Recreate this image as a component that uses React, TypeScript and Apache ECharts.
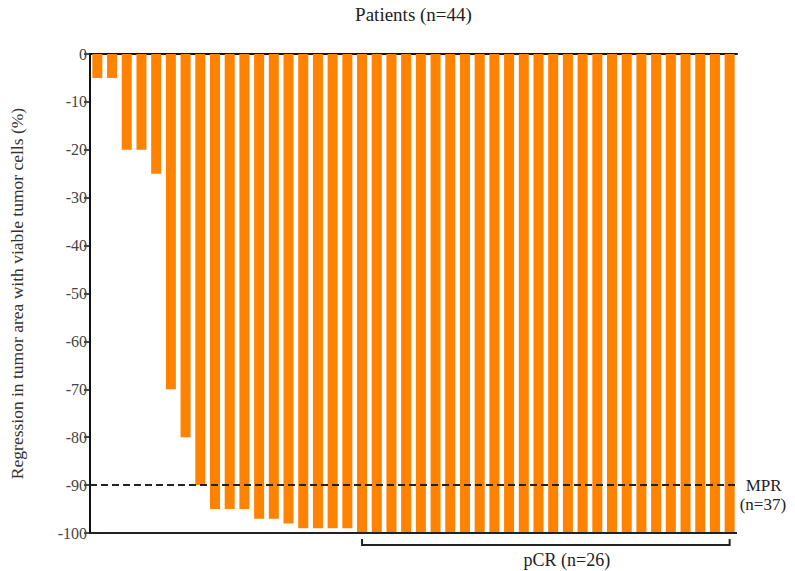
import React, { useEffect, useRef } from "react";
import * as echarts from "echarts";

const patients = [
  "P1", "P2", "P3", "P4", "P5", "P6", "P7", "P8", "P9", "P10", "P11",
  "P12", "P13", "P14", "P15", "P16", "P17", "P18", "P19", "P20", "P21", "P22",
  "P23", "P24", "P25", "P26", "P27", "P28", "P29", "P30", "P31", "P32", "P33",
  "P34", "P35", "P36", "P37", "P38", "P39", "P40", "P41", "P42", "P43", "P44",
];

const regression = [
  -5, -5, -20, -20, -25, -70, -80, -90, -95, -95, -95,
  -97, -97, -98, -99, -99, -99, -99, -100, -100, -100, -100,
  -100, -100, -100, -100, -100, -100, -100, -100, -100, -100, -100,
  -100, -100, -100, -100, -100, -100, -100, -100, -100, -100, -100,
];

const mprThreshold = -90;
const pcrValue = -100;
const pcrFirstIndex = 18;
const pcrLastIndex = 43;

const titleText = "Patients (n=44)";
const yAxisTitle = "Regression in tumor area with viable tumor cells (%)";
const mprLabel = "MPR";
const mprCount = "(n=37)";
const pcrLabel = "pCR (n=26)";

const FONT = "'Liberation Serif', 'DejaVu Serif', serif";

export default function App() {
  const ref = useRef<HTMLDivElement>(null);

  useEffect(() => {
    document.body.style.margin = "0";
    if (!ref.current) return;
    const chart = echarts.init(ref.current, null, { renderer: "svg" });
    chart.setOption({
      animation: false,
      backgroundColor: "#ffffff",
      grid: { left: 88, right: 58, top: 51, bottom: 38 },
      xAxis: {
        type: "category",
        position: "top",
        data: patients,
        name: titleText,
        nameLocation: "middle",
        nameGap: 30,
        nameTextStyle: { fontFamily: FONT, fontSize: 19, color: "#222" },
        axisLine: { show: true, onZero: false, lineStyle: { color: "#111", width: 2 } },
        axisTick: { show: false },
        axisLabel: { show: false },
      },
      yAxis: {
        type: "value",
        min: -100,
        max: 0,
        interval: 10,
        name: yAxisTitle,
        nameLocation: "middle",
        nameRotate: 90,
        nameGap: 64,
        nameTextStyle: { fontFamily: FONT, fontSize: 17.5, color: "#333" },
        axisLine: { show: true, lineStyle: { color: "#111", width: 2 } },
        axisTick: { show: true, length: 6, lineStyle: { color: "#111", width: 1.5 } },
        axisLabel: { fontFamily: FONT, fontSize: 16, color: "#444", margin: 3 },
        splitLine: { show: false },
      },
      series: [
        {
          type: "bar",
          data: regression,
          barCategoryGap: "32%",
          itemStyle: { color: "#ff8200" },
          markLine: {
            silent: true,
            symbol: "none",
            label: { show: false },
            data: [
              { yAxis: mprThreshold, lineStyle: { type: [7, 4], color: "#222", width: 2 } },
              { yAxis: pcrValue, lineStyle: { type: "solid", color: "#222", width: 2 } },
            ],
          },
        },
      ],
    });

    const [x0, yb] = chart.convertToPixel({ xAxisIndex: 0, yAxisIndex: 0 }, [pcrFirstIndex, pcrValue]) as number[];
    const [x1] = chart.convertToPixel({ xAxisIndex: 0, yAxisIndex: 0 }, [pcrLastIndex, pcrValue]) as number[];
    const [xEnd, yMpr] = chart.convertToPixel({ xAxisIndex: 0, yAxisIndex: 0 }, [pcrLastIndex, mprThreshold]) as number[];

    chart.setOption({
      graphic: [
        {
          type: "polyline",
          shape: { points: [[x0, yb + 6], [x0, yb + 12], [x1, yb + 12], [x1, yb + 6]] },
          style: { stroke: "#222", lineWidth: 2, fill: null },
        },
        {
          type: "text",
          x: (x0 + x1) / 2 + 21,
          y: yb + 27,
          style: { text: pcrLabel, font: `18px ${FONT}`, fill: "#222", align: "center", verticalAlign: "middle" },
        },
        {
          type: "text",
          x: xEnd + 16,
          y: yMpr,
          style: { text: mprLabel, font: `17px ${FONT}`, fill: "#222", align: "left", verticalAlign: "middle" },
        },
        {
          type: "text",
          x: xEnd + 10,
          y: yMpr + 19,
          style: { text: mprCount, font: `17px ${FONT}`, fill: "#222", align: "left", verticalAlign: "middle" },
        },
      ],
    });

    return () => chart.dispose();
  }, []);

  return <div ref={ref} style={{ width: 795, height: 571 }} />;
}
